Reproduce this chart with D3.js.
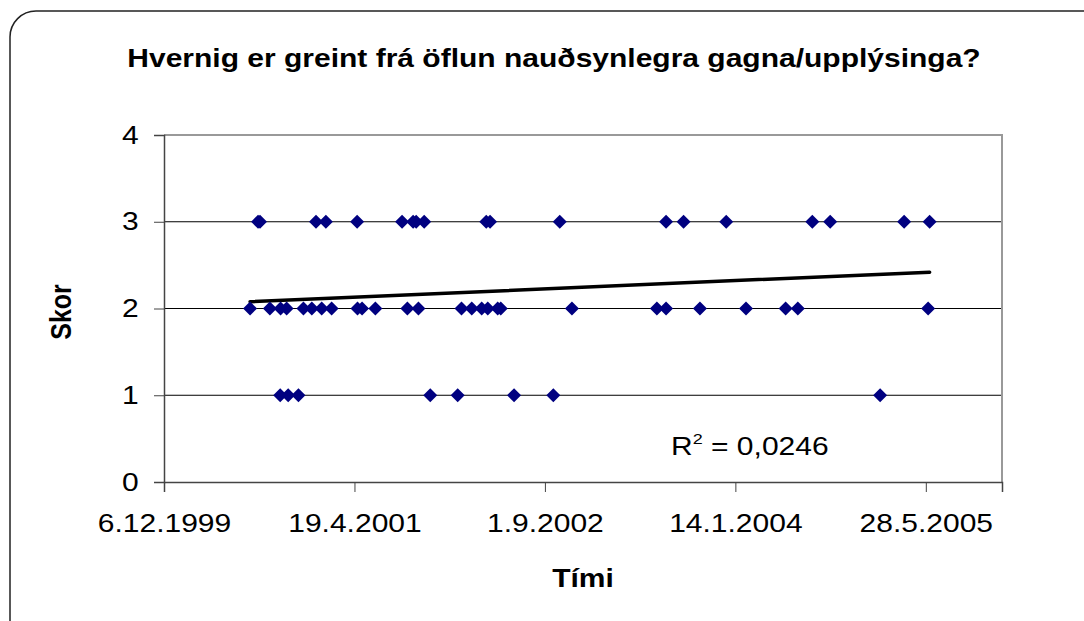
<!DOCTYPE html>
<html lang="is">

<head>
    <meta charset="UTF-8">
    <title>Hvernig er greint frá öflun nauðsynlegra gagna/upplýsinga?</title>
    <script src="https://cdn.jsdelivr.net/npm/d3@7"></script>
    <style>
        body { margin: 0; background: #fff; }
        svg { display: block; font-family: "Liberation Sans", Arial, sans-serif; }
    </style>
</head>

<body>
    <svg id="chart" width="1084" height="621"></svg>

    <script>
        // Excel date serials (days since 30.12.1899) and scores
        const dates = [
            36726, 36747, 36752, 36778, 36805, 36806, 36822, 36826, 36853, 36866,
            36888, 36899, 36914, 36925, 36940, 37007, 37008, 37020, 37055, 37125,
            37139, 37154, 37162, 37168, 37183, 37199, 37271, 37281, 37308, 37334,
            37346, 37350, 37356, 37376, 37384, 37419, 37522, 37539, 37571, 37794,
            37818, 37818, 37864, 37907, 37976, 38028, 38132, 38164, 38202, 38249,
            38380, 38443, 38506, 38510
        ]
        const scores = [
            2, 3, 3, 2, 1, 2, 2, 1, 1, 2,
            2, 3, 2, 3, 2, 3, 2, 2, 2, 3,
            2, 3, 3, 2, 3, 1, 1, 2, 2, 2,
            3, 2, 3, 2, 2, 1, 1, 3, 2, 2,
            3, 2, 3, 2, 3, 2, 2, 2, 3, 3,
            1, 3, 2, 3
        ]

        const xTicks = [36500, 37000, 37500, 38000, 38500]
        const xTickLabels = ['6.12.1999', '19.4.2001', '1.9.2002', '14.1.2004', '28.5.2005']
        const xDomain = [36500, 38700]
        const yTicks = [0, 1, 2, 3, 4]

        const title = 'Hvernig er greint frá öflun nauðsynlegra gagna/upplýsinga?'
        const xTitle = 'Tími'
        const yTitle = 'Skor'
        const rSquared = '0,0246'

        const plot = { left: 164, right: 1002, top: 135, bottom: 482 }
        const stretch = 1.2   // text in the original is drawn wide

        const svg = d3.select('#chart')

        // chart area frame with rounded corner (runs off the right and bottom)
        svg.append('rect')
            .attr('x', 10).attr('y', 11)
            .attr('width', 1100).attr('height', 640)
            .attr('rx', 26)
            .attr('fill', '#fff')
            .attr('stroke', '#222')
            .attr('stroke-width', 1.5)

        const x = d3.scaleLinear().domain(xDomain).range([plot.left, plot.right])
        const y = d3.scaleLinear().domain([0, 4]).range([plot.bottom, plot.top])

        // gridlines
        svg.append('g')
            .selectAll('line')
            .data(yTicks.filter(d => d > 0 && d < 4))
            .join('line')
            .attr('x1', plot.left).attr('x2', plot.right)
            .attr('y1', d => y(d)).attr('y2', d => y(d))
            .attr('stroke', '#000')
            .attr('stroke-width', 1)

        // plot area border (top + right)
        svg.append('path')
            .attr('d', `M${plot.left},${plot.top}H${plot.right}V${plot.bottom}`)
            .attr('fill', 'none')
            .attr('stroke', '#999')
            .attr('stroke-width', 2)

        // y axis
        const yAxis = svg.append('g')
            .attr('transform', `translate(${plot.left},0)`)
            .call(d3.axisLeft(y).tickValues(yTicks).tickSize(10).tickPadding(11).tickFormat(d3.format('d')))
        yAxis.select('.domain').attr('stroke', '#444').attr('stroke-width', 1.5)
        yAxis.selectAll('.tick line').attr('stroke', '#444')
        yAxis.selectAll('text').attr('font-size', 25).attr('fill', '#000')
            .attr('font-family', '"Liberation Sans", Arial, sans-serif')
            .attr('transform', `scale(${stretch},1)`)

        // x axis
        const xAxis = svg.append('g')
            .attr('transform', `translate(0,${plot.bottom})`)
            .call(d3.axisBottom(x).tickValues(xTicks).tickSize(10).tickPadding(22)
                .tickFormat((d, i) => xTickLabels[i]))
        xAxis.select('.domain').attr('stroke', '#444').attr('stroke-width', 1.5)
        xAxis.selectAll('.tick line').attr('stroke', '#444')
        xAxis.selectAll('text').attr('font-size', 25).attr('fill', '#000')
            .attr('font-family', '"Liberation Sans", Arial, sans-serif')
            .attr('transform', `scale(${stretch},1)`)

        // linear trendline (least squares over the points)
        const mx = d3.mean(dates), my = d3.mean(scores)
        const sxy = d3.sum(dates, (d, i) => (d - mx) * (scores[i] - my))
        const sxx = d3.sum(dates, d => (d - mx) ** 2)
        const slope = sxy / sxx
        const icept = my - slope * mx
        const ends = d3.extent(dates)
        svg.append('line')
            .attr('x1', x(ends[0])).attr('y1', y(icept + slope * ends[0]))
            .attr('x2', x(ends[1])).attr('y2', y(icept + slope * ends[1]))
            .attr('stroke', '#000')
            .attr('stroke-width', 3.5)
            .attr('stroke-linecap', 'round')

        // diamond markers
        const diamond = 'M0,-7L7,0L0,7L-7,0Z'
        svg.append('g')
            .selectAll('path')
            .data(dates)
            .join('path')
            .attr('d', diamond)
            .attr('transform', (d, i) => `translate(${x(d)},${y(scores[i])})`)
            .attr('fill', '#000080')

        // R squared label
        const rl = svg.append('text')
            .attr('transform', `translate(671,455) scale(${stretch},1)`)
            .attr('font-size', 25)
        rl.append('tspan').text('R')
        rl.append('tspan').attr('dy', -11).attr('font-size', 15).text('2')
        rl.append('tspan').attr('dy', 11).text(' = ' + rSquared)

        // titles
        svg.append('text')
            .attr('transform', `translate(554,67) scale(${stretch},1)`)
            .attr('text-anchor', 'middle')
            .attr('font-size', 25).attr('font-weight', 'bold')
            .text(title)

        svg.append('text')
            .attr('transform', `translate(583,587) scale(${stretch},1)`)
            .attr('text-anchor', 'middle')
            .attr('font-size', 25).attr('font-weight', 'bold')
            .text(xTitle)

        svg.append('text')
            .attr('transform', `translate(71,312) scale(${stretch},1) rotate(-90)`)
            .attr('text-anchor', 'middle')
            .attr('font-size', 25).attr('font-weight', 'bold')
            .text(yTitle)
    </script>
</body>

</html>
